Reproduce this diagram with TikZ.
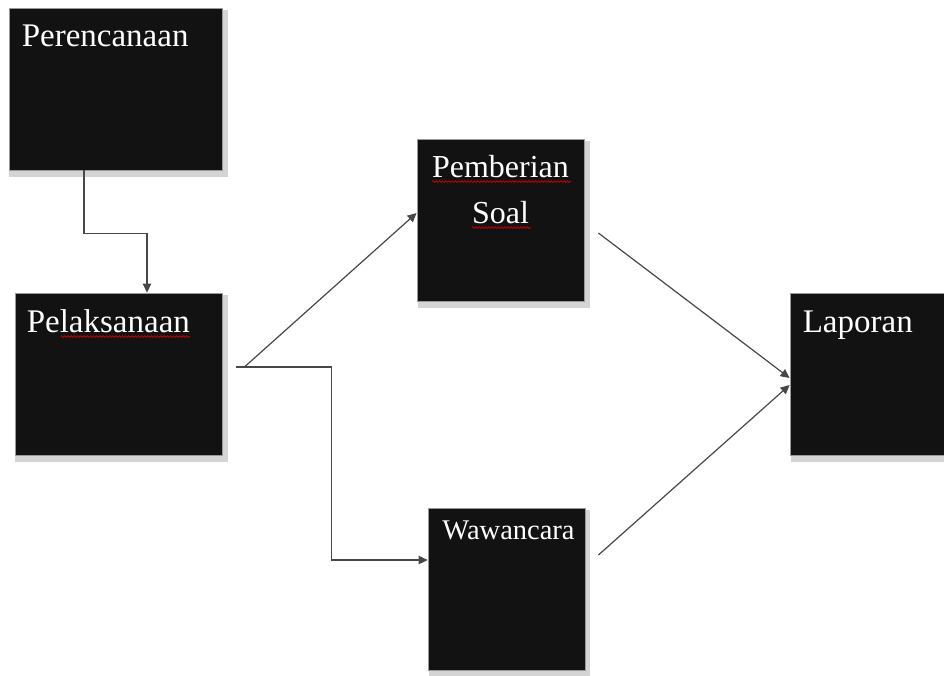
\documentclass[tikz,border=0pt]{standalone}
\usepackage{fontspec}
\setmainfont{Liberation Serif}
\usepackage{tikz}
\usetikzlibrary{positioning,arrows.meta,shadows,decorations.pathmorphing}

\begin{document}
\begin{tikzpicture}[x=1pt, y=1pt,
    every node/.style={font=\fontsize{33}{46}\selectfont},
    box/.style={fill=black!93, draw=black!40, line width=0.8pt, minimum height=162pt, inner sep=0pt,
        drop shadow={shadow xshift=3pt, shadow yshift=-4pt, shadow scale=1.03, fill=black!17, opacity=1}},
    lbl/.style={text=white, inner sep=0pt},
    arrow/.style={-{Triangle[length=9pt, width=8.5pt]}, draw=black!72, line width=1.2pt},
    squiggle/.style={draw=red!75!black, line width=0.8pt, decorate, decoration={snake, amplitude=0.9pt, segment length=3.2pt}},
]
\useasboundingbox[fill=white] (0,0) rectangle (944,-675);

\node[box, minimum width=213pt] (per) at (115.5,-89) {};
\node[box, minimum width=207pt] (pel) at (118.5,-374) {};
\node[box, minimum width=167pt] (pem) at (500.5,-220) {};
\node[box, minimum width=157pt] (waw) at (506.5,-589) {};
\node[box, minimum width=165pt] (lap) at (872.5,-374) {};

% Box texts
\node[lbl, anchor=base west] (perT) at ([shift={(13pt,-39pt)}]per.north west) {Perencanaan};
\node[lbl, anchor=base west] (pelT) at ([shift={(12pt,-40pt)}]pel.north west) {Pelaksanaan};
\node[lbl, anchor=base, align=center, font=\fontsize{32}{46}\selectfont] (pemT) at ([yshift=-85pt]pem.north) {Pemberian\\Soal};
\node[lbl, anchor=base, font=\fontsize{28.5}{34}\selectfont] (wawT) at ([shift={(2pt,-32pt)}]waw.north) {Wawancara};
\node[lbl, anchor=base west] (lapT) at ([shift={(13pt,-40pt)}]lap.north west) {Laporan};

% Spelling marks
\draw[squiggle] ([shift={(34pt,-4pt)}]pelT.base west) -- ([yshift=-4pt]pelT.base east);
\draw[squiggle] ([shift={(-68.5pt,-43pt)}]pem.north) -- ([shift={(70.5pt,-43pt)}]pem.north);
\draw[squiggle] ([shift={(-28.5pt,-89pt)}]pem.north) -- ([shift={(30.5pt,-89pt)}]pem.north);

\coordinate (fork) at ([shift={(14pt,7pt)}]pel.east);

\draw[arrow] ([xshift=-31.5pt]per.south) -- ++(0,-63) -| ([xshift=28.5pt]pel.north);
\draw[arrow] ([xshift=8pt]fork) -- ([yshift=7pt]pem.west);
\draw[arrow] (fork) -- ++(95,0) |- ([yshift=29pt]waw.west);
\draw[arrow] ([shift={(14pt,-13pt)}]pem.east) -- ([yshift=-4pt]lap.west);
\draw[arrow] ([shift={(13pt,34pt)}]waw.east) -- ([yshift=-11pt]lap.west);

\end{tikzpicture}
\end{document}
